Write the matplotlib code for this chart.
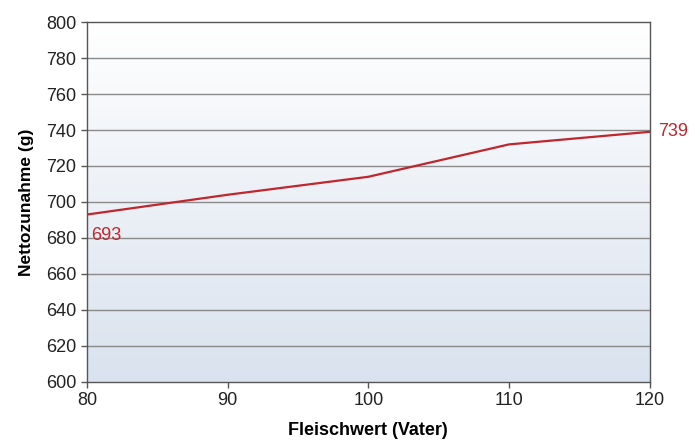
import numpy as np
import matplotlib
matplotlib.use("Agg")
import matplotlib.pyplot as plt
from matplotlib.colors import LinearSegmentedColormap

plt.rcParams['font.family'] = ['Liberation Sans', 'DejaVu Sans']

# data
fleischwert = [80, 90, 100, 110, 120]
nettozunahme = [693, 704, 714, 732, 739]
y_ticks = [600, 620, 640, 660, 680, 700, 720, 740, 760, 780, 800]
x_ticks = [80, 90, 100, 110, 120]

line_color = '#c0262d'

fig = plt.figure(figsize=(6.89, 4.41), dpi=100)
ax = fig.add_axes([0.126, 0.134, 0.817, 0.816])

# background gradient (white at top -> light blue-grey at bottom)
cmap = LinearSegmentedColormap.from_list('bg', ['#d9e2ee', '#ffffff'])
grad = np.linspace(0, 1, 256).reshape(-1, 1)
ax.imshow(grad, cmap=cmap, aspect='auto', origin='lower',
          extent=[0, 1, 0, 1], transform=ax.transAxes, zorder=0)

for yv in y_ticks[1:-1]:
    ax.axhline(yv, color='#8a8a8a', linewidth=1.0, zorder=1)

ax.plot(fleischwert, nettozunahme, color=line_color, linewidth=1.6, zorder=3)

ax.annotate(str(nettozunahme[0]), (fleischwert[0], nettozunahme[0]),
            xytext=(3, -9), textcoords='offset points',
            ha='left', va='top', color=line_color, fontsize=13)
ax.annotate(str(nettozunahme[-1]), (fleischwert[-1], nettozunahme[-1]),
            xytext=(6, 0), textcoords='offset points',
            ha='left', va='center', color=line_color, fontsize=13,
            annotation_clip=False)

ax.set_xlim(80, 120)
ax.set_ylim(600, 800)
ax.set_xticks(x_ticks)
ax.set_yticks(y_ticks)
ax.tick_params(direction='out', length=4, width=1, color='#555555',
               labelsize=13, labelcolor='#222222')

for s in ax.spines.values():
    s.set_color('#555555')
    s.set_linewidth(1.0)

ax.set_xlabel('Fleischwert (Vater)', fontsize=13, fontweight='bold', labelpad=9)
ax.set_ylabel('Nettozunahme (g)', fontsize=12.5, fontweight='bold', labelpad=9)

fig.savefig('out.png', dpi=100)
